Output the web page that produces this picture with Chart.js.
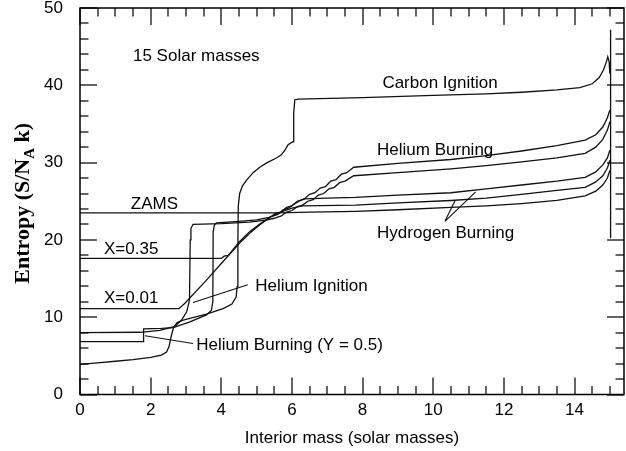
<!DOCTYPE html>
<html>
<head>
<meta charset="utf-8">
<script src="https://cdn.jsdelivr.net/npm/chart.js@4.4.1/dist/chart.umd.min.js"></script>
<style>
  html, body { margin: 0; padding: 0; background: #fff; }
  #wrap { width: 626px; height: 451px; position: relative; }
</style>
</head>
<body>
<div id="wrap"><canvas id="entropyChart"></canvas></div>
<script>
// Tick labels
const massTicks = [0, 2, 4, 6, 8, 10, 12, 14];
const entropyTicks = [0, 10, 20, 30, 40, 50];

// Entropy profiles of a 15 Msun star: interior mass vs S/(N_A k)
const zamsMass = [0, 5.6, 6.5, 7.8, 9.0, 10.5, 11.5, 12.5, 13.5, 14.3, 14.6, 14.8, 14.93, 15.0];
const zamsS    = [23.5, 23.5, 23.6, 23.7, 23.9, 24.2, 24.4, 24.7, 25.1, 25.7, 26.3, 27.1, 28.0, 29.0];

const x35Mass = [0, 4.0, 4.08, 4.2, 4.52, 4.81, 5.1, 5.4, 5.6, 5.8, 6.0, 6.3, 7.8, 9.0, 10.5, 11.5, 12.5, 13.5, 14.3, 14.6, 14.8, 14.93, 15.0];
const x35S    = [17.6, 17.6, 17.9, 18.0, 19.8, 21.1, 22.1, 23.0, 23.4, 23.8, 24.1, 24.4, 24.5, 24.8, 25.1, 25.4, 25.9, 26.4, 26.8, 27.5, 28.3, 29.3, 30.3];

const x01Mass = [0, 2.8, 2.97, 3.58, 4.05, 4.52, 4.81, 5.1, 5.35, 5.55, 5.7, 5.85, 6.0, 6.15, 6.35, 7.0, 7.8, 9.0, 10.5, 11.5, 12.5, 13.5, 14.3, 14.6, 14.8, 14.93, 15.0];
const x01S    = [11.1, 11.1, 11.8, 14.8, 17.2, 19.6, 20.9, 22.0, 22.8, 23.5, 23.6, 24.2, 24.4, 25.0, 25.3, 25.4, 25.5, 25.8, 26.1, 26.6, 27.1, 27.6, 28.1, 28.8, 29.7, 30.6, 31.6];

const heIgnMass = [0, 1.7, 2.26, 2.69, 2.87, 3.02, 3.1, 3.12, 3.14, 3.2, 4.0, 4.8, 5.3, 5.5, 5.7, 5.85, 6.0, 6.15, 6.3, 6.45, 6.6, 6.75, 6.9, 7.05, 7.2, 7.35, 7.5, 7.75, 9.0, 10.5, 11.5, 12.5, 13.5, 14.3, 14.6, 14.8, 14.93, 15.0];
const heIgnS    = [8.0, 8.05, 8.3, 8.8, 9.6, 10.7, 12.2, 20.0, 21.5, 22.0, 22.1, 22.3, 22.6, 22.8, 23.1, 23.6, 23.8, 24.3, 24.5, 25.0, 25.2, 25.8, 26.0, 26.6, 26.8, 27.4, 27.6, 28.3, 28.7, 29.2, 29.6, 30.1, 30.6, 31.2, 32.0, 33.0, 34.2, 35.3];

const heBurnMass = [0, 1.79, 1.8, 2.3, 2.64, 3.11, 3.58, 3.72, 3.76, 3.77, 3.8, 3.86, 4.5, 5.0, 5.35, 5.6, 5.75, 5.9, 6.05, 6.2, 6.35, 6.5, 6.65, 6.8, 6.95, 7.1, 7.25, 7.4, 7.55, 7.75, 9.0, 10.5, 11.5, 12.5, 13.5, 14.3, 14.6, 14.8, 14.93, 15.0];
const heBurnS    = [6.85, 6.85, 8.5, 8.55, 8.65, 9.4, 10.3, 10.9, 12.0, 21.0, 21.9, 22.2, 22.4, 22.6, 22.9, 23.3, 23.9, 24.1, 24.6, 25.0, 25.3, 25.9, 26.1, 26.7, 26.9, 27.6, 27.8, 28.5, 28.7, 29.4, 29.9, 30.4, 30.9, 31.5, 32.2, 32.9, 33.6, 34.6, 35.8, 36.8];

const cIgnMass = [0, 0.5, 1.0, 1.5, 2.0, 2.3, 2.45, 2.52, 2.58, 2.65, 2.75, 2.9, 3.11, 3.58, 4.05, 4.3, 4.42, 4.45, 4.47, 4.48, 4.52, 4.6, 4.71, 4.9, 5.09, 5.3, 5.56, 5.7, 5.8, 5.89, 6.03, 6.05, 6.08, 6.17, 8.0, 10.0, 11.5, 12.5, 13.5, 14.15, 14.5, 14.7, 14.82, 14.9, 14.94, 14.98, 15.0];
const cIgnS    = [3.9, 4.1, 4.3, 4.5, 4.8, 5.1, 5.5, 6.2, 7.5, 8.7, 9.3, 9.6, 9.85, 10.4, 11.1, 11.7, 12.6, 14.0, 20.0, 24.3, 26.0, 27.0, 27.7, 28.7, 29.4, 30.0, 30.6, 31.0, 31.6, 32.3, 32.7, 36.4, 38.1, 38.2, 38.4, 38.7, 38.9, 39.1, 39.4, 39.7, 40.2, 41.0, 42.0, 43.0, 43.7, 43.0, 41.5];

const surfaceMass = [15.02, 15.02];
const surfaceS    = [20.2, 47.2];

// Curve labels (anchored at left/middle) and pointer lines, in data units
const curveLabels = [
  { text: '15 Solar masses', x: 1.5, y: 43.8 },
  { text: 'Carbon Ignition', x: 8.56, y: 40.3 },
  { text: 'Helium Burning', x: 8.41, y: 31.6 },
  { text: 'Hydrogen Burning', x: 8.41, y: 20.9 },
  { text: 'ZAMS', x: 1.44, y: 24.6 },
  { text: 'X=0.35', x: 0.68, y: 18.8 },
  { text: 'X=0.01', x: 0.68, y: 12.5 },
  { text: 'Helium Ignition', x: 4.96, y: 14.0 },
  { text: 'Helium Burning (Y = 0.5)', x: 3.29, y: 6.3 }
];
const pointers = [
  [[4.75, 14.2], [3.2, 11.9]],
  [[3.2, 6.6], [1.84, 7.6]],
  [[10.33, 22.4], [10.62, 25.1]],
  [[10.33, 22.4], [11.2, 26.2]]
];

function pts(ms, ss) {
  return ms.map((m, i) => ({ x: m, y: ss[i] }));
}

function curve(label, ms, ss) {
  return {
    label: label,
    data: pts(ms, ss),
    showLine: true,
    borderColor: '#111',
    borderWidth: 1.3,
    pointRadius: 0,
    tension: 0,
    fill: false
  };
}

const sansFont = '17px "Liberation Sans", Arial, Helvetica, sans-serif';

// frame, inward ticks on all four sides, annotations and axis titles
const decorations = {
  id: 'decorations',
  afterDraw(chart) {
    const { ctx, chartArea: a, scales } = chart;
    const xs = scales.x, ys = scales.y;
    ctx.save();
    ctx.fillStyle = '#000';

    // inward tick marks
    for (let v = 0; v <= 15.4; v += 0.5) {
      const px = Math.round(xs.getPixelForValue(v));
      const len = v % 2 === 0 ? 17 : 8.5;
      ctx.fillRect(px - 0.6, a.bottom - len, 1.2, len);
      ctx.fillRect(px - 0.6, a.top, 1.2, len);
    }
    for (let v = 0; v <= 50; v += 2) {
      const py = Math.round(ys.getPixelForValue(v));
      const len = v % 10 === 0 ? 17 : 8.5;
      ctx.fillRect(a.left, py - 0.6, len, 1.2);
      ctx.fillRect(a.right - len, py - 0.6, len, 1.2);
    }

    ctx.strokeStyle = '#000';
    ctx.lineWidth = 1.5;
    ctx.strokeRect(a.left, a.top, a.right - a.left, a.bottom - a.top);

    // pointer lines
    ctx.lineWidth = 1.1;
    ctx.strokeStyle = '#111';
    ctx.beginPath();
    pointers.forEach(([p, q]) => {
      ctx.moveTo(xs.getPixelForValue(p[0]), ys.getPixelForValue(p[1]));
      ctx.lineTo(xs.getPixelForValue(q[0]), ys.getPixelForValue(q[1]));
    });
    ctx.stroke();

    // curve labels
    ctx.font = sansFont;
    ctx.textAlign = 'left';
    ctx.textBaseline = 'middle';
    curveLabels.forEach(l => {
      ctx.fillText(l.text, xs.getPixelForValue(l.x), ys.getPixelForValue(l.y));
    });

    // x-axis title
    ctx.textAlign = 'center';
    ctx.fillText('Interior mass (solar masses)', (a.left + a.right) / 2, 438);

    // y-axis title with subscript A
    const big = 'bold 22px "Liberation Serif", "Times New Roman", serif';
    const small = 'bold 15px "Liberation Serif", "Times New Roman", serif';
    const parts = [['Entropy (S/N', big, 0], ['A', small, 5], [' k)', big, 0]];
    ctx.translate(a.left - 58, (a.top + a.bottom) / 2 + 2);
    ctx.rotate(-Math.PI / 2);
    ctx.textAlign = 'left';
    ctx.textBaseline = 'alphabetic';
    let total = 0;
    parts.forEach(([t, f]) => { ctx.font = f; total += ctx.measureText(t).width; });
    let cx = -total / 2;
    parts.forEach(([t, f, dy]) => {
      ctx.font = f;
      ctx.fillText(t, cx, 7 + dy);
      cx += ctx.measureText(t).width;
    });
    ctx.restore();
  }
};

const chart = new Chart(document.getElementById('entropyChart'), {
  type: 'scatter',
  data: {
    datasets: [
      curve('ZAMS', zamsMass, zamsS),
      curve('X=0.35', x35Mass, x35S),
      curve('X=0.01', x01Mass, x01S),
      curve('Helium Ignition', heIgnMass, heIgnS),
      curve('Helium Burning (Y = 0.5)', heBurnMass, heBurnS),
      curve('Carbon Ignition', cIgnMass, cIgnS),
      curve('Surface', surfaceMass, surfaceS)
    ]
  },
  options: {
    responsive: true,
    maintainAspectRatio: false,
    animation: false,
    devicePixelRatio: 1,
    layout: { padding: { left: 0, right: 2, top: 8, bottom: 0 } },
    plugins: {
      legend: { display: false },
      tooltip: { enabled: false }
    },
    scales: {
      x: {
        type: 'linear',
        min: 0,
        max: 15.4,
        grid: { display: false, drawTicks: false },
        border: { display: false },
        afterFit: s => { s.height = 56.5; s.paddingLeft = 0; s.paddingRight = 0; },
        afterBuildTicks: s => { s.ticks = massTicks.map(v => ({ value: v })); },
        ticks: {
          color: '#000',
          padding: 6,
          maxRotation: 0,
          font: { family: '"Liberation Sans", Arial, sans-serif', size: 17 }
        }
      },
      y: {
        type: 'linear',
        min: 0,
        max: 50,
        grid: { display: false, drawTicks: false },
        border: { display: false },
        afterFit: s => { s.width = 80; s.paddingTop = 0; s.paddingBottom = 0; },
        afterBuildTicks: s => { s.ticks = entropyTicks.map(v => ({ value: v })); },
        ticks: {
          color: '#000',
          padding: 17,
          font: { family: '"Liberation Sans", Arial, sans-serif', size: 17 }
        }
      }
    }
  },
  plugins: [decorations]
});
</script>
</body>
</html>
